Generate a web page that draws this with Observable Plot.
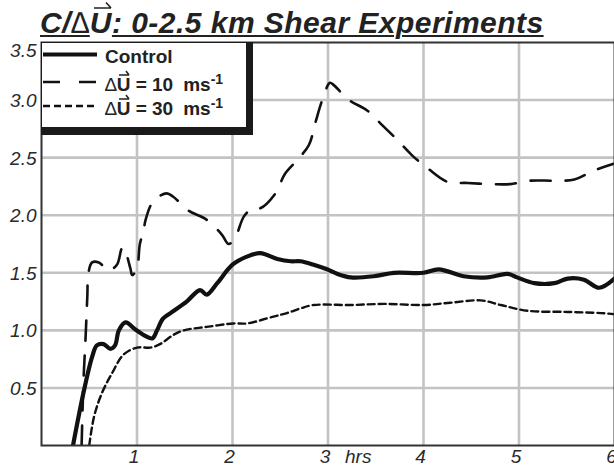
<!DOCTYPE html>
<html><head><meta charset="utf-8">
<script src="https://cdn.jsdelivr.net/npm/d3@7"></script>
<script src="https://cdn.jsdelivr.net/npm/@observablehq/plot@0.6"></script>
<style>
body{margin:0;background:#fff;}
#wrap{position:relative;width:614px;height:468px;overflow:hidden;font-family:"Liberation Sans",Arial,Helvetica,sans-serif;color:#222;}
#chart svg text{font-family:"Liberation Sans",Arial,Helvetica,sans-serif !important;font-style:italic !important;font-size:19px !important;fill:#2a2a2a;}
#title{position:absolute;left:40px;top:8px;font-weight:bold;font-style:italic;font-size:30px;line-height:1;white-space:nowrap;text-decoration:underline;text-decoration-thickness:2px;text-underline-offset:2px;}
#legend{position:absolute;left:41px;top:42px;width:212px;height:93px;box-sizing:border-box;background:#fff;border-style:solid;border-color:#1a1a1a;border-width:1.5px 7px 8px 1.5px;}
.lrow{position:absolute;left:105px;font-weight:bold;font-size:19px;line-height:1;white-space:nowrap;}
.lrow .d{font-weight:normal;}
.lrow sup{font-size:14px;vertical-align:7px;line-height:0;}
.ms{margin-left:10px;}
.samp{position:absolute;left:43px;}
.vec{position:relative;display:inline-block;}
.vec svg{position:absolute;overflow:visible;}
#title .vec svg{left:4px;top:-7px;}
.lrow .vec svg{left:2px;top:-5px;}
</style></head>
<body>
<div id="wrap">
  <div id="chart"></div>
  <div id="title">C/<span style="font-weight:normal">∆</span><span class="vec">U<svg width="18" height="8"><path d="M0 7H17M12 1.5L17 7" stroke="#222" stroke-width="1.6" fill="none"/></svg></span>: 0-2.5 km Shear Experiments</div>
  <div id="legend"></div>
  <svg class="samp" style="top:49px" width="56" height="12"><line x1="0" x2="54" y1="5.5" y2="5.5" stroke="#111" stroke-width="4"/></svg>
  <svg class="samp" style="top:76px" width="56" height="12"><line x1="0" x2="54" y1="6" y2="6" stroke="#111" stroke-width="2.6" stroke-dasharray="17,19"/></svg>
  <svg class="samp" style="top:100px" width="56" height="12"><line x1="0" x2="54" y1="6" y2="6" stroke="#111" stroke-width="2.4" stroke-dasharray="7,4"/></svg>
  <div class="lrow" style="top:47px">Control</div>
  <div class="lrow" style="top:75px"><span class="d">∆</span><span class="vec">U<svg width="11" height="6"><path d="M0 5H10M7 1L10 5" stroke="#222" stroke-width="1.5" fill="none"/></svg></span> = 10<span class="ms">ms<sup>-1</sup></span></div>
  <div class="lrow" style="top:99px"><span class="d">∆</span><span class="vec">U<svg width="11" height="6"><path d="M0 5H10M7 1L10 5" stroke="#222" stroke-width="1.5" fill="none"/></svg></span> = 30<span class="ms">ms<sup>-1</sup></span></div>
</div>
<script>
// hours
const controlT = [0.33,0.44,0.53,0.58,0.65,0.72,0.77,0.81,0.88,0.98,1.09,1.16,1.21,1.27,1.35,1.52,1.66,1.73,1.84,2.0,2.15,2.29,2.47,2.61,2.71,2.85,2.99,3.10,3.24,3.48,3.69,4.00,4.16,4.42,4.67,4.88,4.98,5.16,5.37,5.51,5.68,5.84,6.0];
const controlV = [0,0.46,0.77,0.87,0.88,0.84,0.87,1.0,1.07,1.01,0.95,0.93,1.0,1.10,1.15,1.25,1.35,1.31,1.41,1.57,1.64,1.67,1.62,1.60,1.60,1.57,1.53,1.49,1.46,1.47,1.50,1.50,1.53,1.47,1.46,1.49,1.46,1.41,1.41,1.45,1.44,1.37,1.45];

const shear10T = [0.42,0.44,0.46,0.48,0.49,0.53,0.60,0.70,0.79,0.84,0.86,0.93,0.95,1.0,1.03,1.07,1.09,1.17,1.31,1.38,1.54,1.73,1.89,1.96,2.03,2.12,2.21,2.29,2.45,2.55,2.69,2.80,2.87,2.94,3.02,3.06,3.22,3.41,3.57,3.73,3.88,4.04,4.25,4.46,4.70,4.91,5.12,5.37,5.58,5.79,6.0];
const shear10V = [0,0.57,0.91,1.30,1.49,1.59,1.59,1.52,1.57,1.71,1.72,1.54,1.48,1.54,1.75,1.87,1.96,2.12,2.19,2.16,2.04,1.96,1.83,1.75,1.81,1.99,2.06,2.06,2.19,2.36,2.49,2.61,2.81,3.0,3.15,3.13,3.0,2.91,2.78,2.65,2.52,2.41,2.29,2.28,2.27,2.27,2.30,2.30,2.31,2.39,2.45];

const shear30T = [0.50,0.55,0.63,0.74,0.86,1.0,1.14,1.24,1.38,1.49,1.73,2.01,2.15,2.43,2.57,2.71,2.85,3.24,3.59,4.00,4.28,4.60,4.81,5.09,5.51,5.86,6.0];
const shear30V = [0,0.25,0.45,0.63,0.79,0.85,0.85,0.88,0.96,1.0,1.03,1.06,1.06,1.12,1.15,1.19,1.22,1.22,1.23,1.22,1.24,1.26,1.22,1.17,1.16,1.15,1.14];

const xTicks = [1,2,3,4,5,6];
const xGrid = [1,2,3,4,5];
const yTicks = [0.5,1.0,1.5,2.0,2.5,3.0];
const yTopTick = [3.5];
const yGrid = [0.5,1.0,1.5,2.0,2.5,3.0];
const unitLabel = [{t:3, text:"hrs"}];

const toRows = (T,V) => T.map((t,i)=>({t, v:V[i]}));
const control = toRows(controlT, controlV);
const shear10 = toRows(shear10T, shear10V);
const shear30 = toRows(shear30T, shear30V);

const chart = Plot.plot({
  width: 614, height: 468,
  marginTop: 42, marginLeft: 41, marginRight: 0, marginBottom: 23,
  x: {domain: [0, 6]},
  y: {domain: [0, 3.5]},
  style: {fontSize: "19px", color: "#2a2a2a", background: "white", overflow: "visible"},
  marks: [
    Plot.gridX(xGrid, {stroke: "#c3c3c3", strokeWidth: 2.6, strokeOpacity: 1}),
    Plot.gridY(yGrid, {stroke: "#c3c3c3", strokeWidth: 2.6, strokeOpacity: 1}),
    Plot.line(shear30, {x: "t", y: "v", stroke: "#111", strokeWidth: 2.4, strokeDasharray: "7,4", curve: "catmull-rom", clip: true}),
    Plot.line(shear10, {x: "t", y: "v", stroke: "#111", strokeWidth: 2.6, strokeDasharray: "20,15", curve: "catmull-rom", clip: true}),
    Plot.line(control, {x: "t", y: "v", stroke: "#111", strokeWidth: 4.2, curve: "catmull-rom", clip: true}),
    Plot.frame({stroke: "#333", strokeWidth: 2}),
    Plot.axisX(xTicks, {tickSize: 0, tickPadding: 4, dx: -3, label: null, fontSize: 19, tickFormat: d => String(d)}),
    Plot.text(unitLabel, {x: "t", text: "text", frameAnchor: "bottom", textAnchor: "start", lineAnchor: "top", dx: 17, dy: 4, fontSize: 19}),
    Plot.axisY(yTicks, {tickSize: 0, tickPadding: 5, dy: 1, label: null, fontSize: 19, tickFormat: d3.format(".1f")}),
    Plot.axisY(yTopTick, {tickSize: 0, tickPadding: 5, dy: 8, label: null, fontSize: 19, tickFormat: d3.format(".1f")})
  ]
});
document.getElementById("chart").appendChild(chart);

function fitTitle(){
  const t = document.getElementById("title");
  t.style.letterSpacing = "0px";
  const w = t.getBoundingClientRect().width;
  const n = t.textContent.length;
  t.style.letterSpacing = ((503 - w) / (n - 1)).toFixed(2) + "px";
}
fitTitle();
if (document.fonts && document.fonts.ready) document.fonts.ready.then(fitTitle);
</script>
</body></html>
